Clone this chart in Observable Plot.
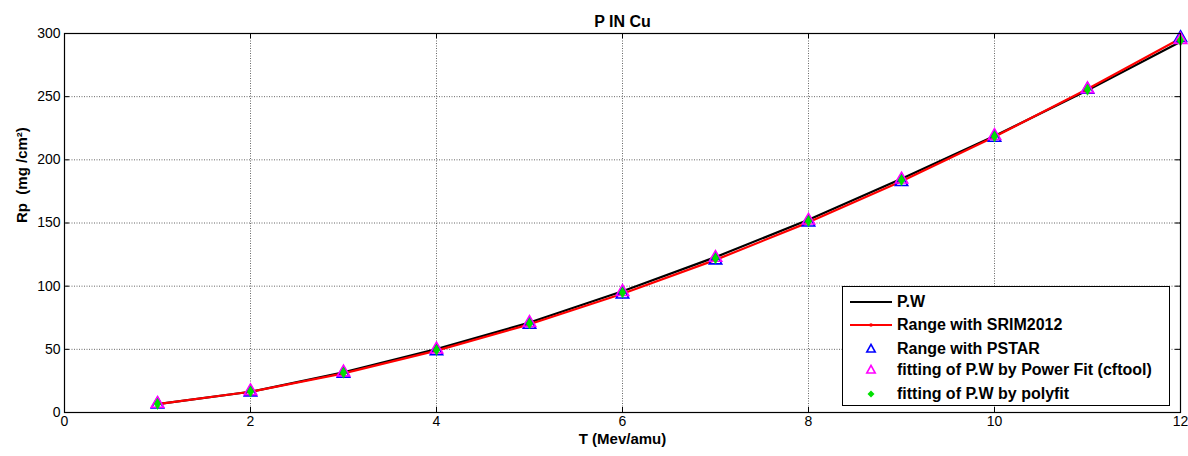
<!DOCTYPE html>
<html>
<head>
<meta charset="utf-8">
<script src="https://cdn.jsdelivr.net/npm/d3@7"></script>
<script src="https://cdn.jsdelivr.net/npm/@observablehq/plot@0.6"></script>
<style>
  html, body { margin: 0; padding: 0; background: #fff; }
  #wrap { position: relative; width: 1188px; height: 456px; font-family: "Liberation Sans", Arial, sans-serif; }
  #legend { position: absolute; left: 842px; top: 286px; width: 328px; height: 120px; border: 1px solid #000; background: #fff; box-sizing: border-box; }
  .row { position: absolute; left: 0; height: 22px; display: flex; align-items: center; font-weight: bold; font-size: 16px; color: #000; white-space: nowrap; }
  .row svg { width: 46px; height: 22px; margin-left: 6px; margin-right: 2px; }
</style>
</head>
<body>
<div id="wrap"></div>
<script>
// ---- data ----
const T      = [1, 2, 3, 4, 5, 6, 7, 8, 9, 10, 11, 12];
const PW     = [6.6, 16.4, 31.8, 50.2, 71.2, 96.0, 123.0, 152.5, 185.0, 218.8, 255.0, 293.5];
const SRIM   = [6.6, 16.4, 31.0, 49.0, 69.8, 94.0, 120.8, 150.5, 183.0, 218.2, 256.0, 296.0];
const PSTAR  = [6.4, 16.0, 30.8, 48.5, 69.5, 93.5, 120.5, 150.5, 182.5, 217.5, 255.5, 296.5];
const POWER  = [7.0, 17.0, 31.8, 50.0, 71.0, 95.5, 122.5, 152.0, 184.5, 219.0, 256.0, 295.0];
const POLY   = [6.8, 16.6, 31.5, 49.5, 70.5, 95.0, 122.0, 151.5, 184.0, 218.5, 255.5, 294.5];
const xTicks = [0, 2, 4, 6, 8, 10, 12];
const yTicks = [0, 50, 100, 150, 200, 250, 300];
const seriesNames = ["P.W", "Range with SRIM2012", "Range with PSTAR", "fitting of P.W by Power Fit (cftool)", "fitting of P.W by polyfit"];
const title = "P IN Cu";
const xLabel = "T (Mev/amu)";
const yLabel = "Rp\u00a0 (mg /cm\u00b2)";

const tbl = arr => T.map((t, i) => ({t, v: arr[i]}));

const W = 1188, H = 456, mL = 64, mR = 8, mT = 33, mB = 44;
const fw = W - mL - mR, fh = H - mT - mB;
const tk = 5;

const chart = Plot.plot({
  width: W, height: H,
  marginLeft: mL, marginRight: mR, marginTop: mT, marginBottom: mB,
  style: {fontFamily: '"Liberation Sans", Arial, sans-serif', fontSize: "14px", color: "#000", background: "#fff"},
  x: {domain: [0, 12]},
  y: {domain: [0, 300]},
  marks: [
    Plot.gridX(xTicks, {stroke: "#333", strokeOpacity: 0.75, strokeDasharray: "1,1.5"}),
    Plot.gridY(yTicks, {stroke: "#333", strokeOpacity: 0.75, strokeDasharray: "1,1.5"}),
    // inward ticks (MATLAB style)
    Plot.tickX(xTicks, {x: d => d, insetTop: fh - tk, stroke: "#000"}),
    Plot.tickX(xTicks, {x: d => d, insetBottom: fh - tk, stroke: "#000"}),
    Plot.tickY(yTicks, {y: d => d, insetRight: fw - tk, stroke: "#000"}),
    Plot.tickY(yTicks, {y: d => d, insetLeft: fw - tk, stroke: "#000"}),
    Plot.axisX({ticks: xTicks, tickSize: 0, tickPadding: 4, fontSize: 14, label: null}),
    Plot.axisY({ticks: yTicks, tickSize: 0, tickPadding: 4, fontSize: 14, label: null}),
    // series
    Plot.line(tbl(PW), {x: "t", y: "v", stroke: "#000", strokeWidth: 2.2}),
    Plot.line(tbl(SRIM), {x: "t", y: "v", stroke: "#f00", strokeWidth: 2.2}),
    Plot.dot(tbl(SRIM), {x: "t", y: "v", fill: "#f00", r: 1.6}),
    Plot.dot(tbl(PSTAR), {x: "t", y: "v", symbol: "triangle", stroke: "#00f", fill: "none", strokeWidth: 1.6, r: 4.6}),
    Plot.dot(tbl(POWER), {x: "t", y: "v", symbol: "triangle", stroke: "#f0f", fill: "none", strokeWidth: 1.6, r: 4.6}),
    Plot.dot(tbl(POLY), {x: "t", y: "v", symbol: "diamond", fill: "#00e000", stroke: "#00e000", strokeWidth: 0.5, r: 3.4}),
    Plot.frame({stroke: "#000", strokeWidth: 1.2}),
    // titles
    Plot.text([title], {frameAnchor: "top", dy: -18, fontWeight: "bold", fontSize: 16}),
    Plot.text([xLabel], {frameAnchor: "bottom", dy: 31, fontWeight: "bold", fontSize: 15}),
    Plot.text([yLabel], {frameAnchor: "left", dx: -42, rotate: -90, fontWeight: "bold", fontSize: 15})
  ]
});

const wrap = document.getElementById("wrap");
wrap.appendChild(chart);

// legend (HTML overlay)
const legend = document.createElement("div");
legend.id = "legend";
const swatches = [
  '<line x1="1" x2="43" y1="11" y2="11" stroke="#000" stroke-width="2"/>',
  '<line x1="1" x2="43" y1="11" y2="11" stroke="#f00" stroke-width="2"/><circle cx="22" cy="11" r="1.8" fill="#f00"/>',
  '<path d="M22,6.4L26.2,14L17.8,14Z" fill="none" stroke="#00f" stroke-width="1.6"/>',
  '<path d="M22,6.4L26.2,14L17.8,14Z" fill="none" stroke="#f0f" stroke-width="1.6"/>',
  '<path d="M22,7.5L25.5,11L22,14.5L18.5,11Z" fill="#00e000"/>'
];
const tops = [4, 27, 51, 72, 96];
seriesNames.forEach((name, i) => {
  const r = document.createElement("div");
  r.className = "row";
  r.style.top = tops[i] + "px";
  r.innerHTML = '<svg viewBox="0 0 46 22">' + swatches[i] + '</svg><span>' + name + '</span>';
  legend.appendChild(r);
});
wrap.appendChild(legend);
</script>
</body>
</html>
